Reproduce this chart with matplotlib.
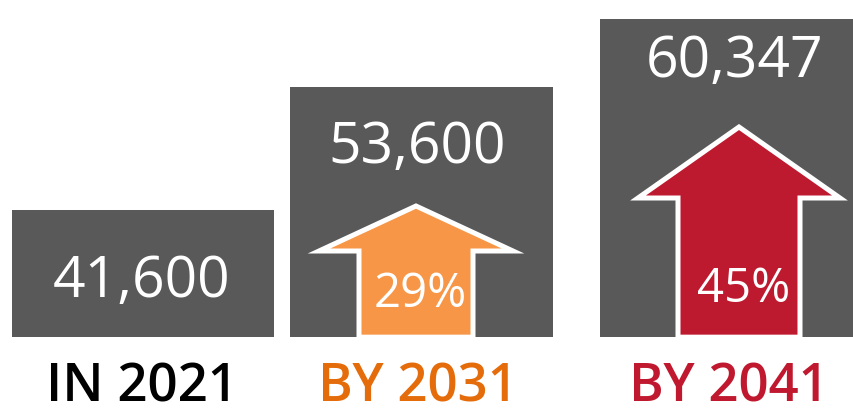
import matplotlib.pyplot as plt
from matplotlib.patches import Polygon

# population figures
labels = ['IN 2021', 'BY 2031', 'BY 2041']
values = [41600, 53600, 60347]
value_text = ['41,600', '53,600', '60,347']
growth = [None, '29%', '45%']

label_colors = ['#000000', '#E46C0A', '#C0192F']
arrow_colors = [None, '#F79646', '#BE1A2F']
bar_color = '#595959'

# layout (pixels on a 854x417 canvas)
W, H = 854, 417
bar_left = [12, 290, 600]
bar_width = [262, 263, 253]
base = 29050
ymin, ymax = 21200, 62200
value_y = [282, 148, 63]
value_x = [142, 417, 735]
label_x = [142, 418, 729]
# arrow: centre x, tip y, head base y, head half width, shaft half width
arrows = [None, (416, 206, 251, 97, 57), (739, 127, 198, 101, 61)]
pct_pos = [None, (420, 294), (744, 289)]


def py(p):
    # canvas pixel row -> data value
    return ymin + (H - p) / H * (ymax - ymin)


fig = plt.figure(figsize=(W / 100, H / 100), dpi=100)
ax = fig.add_axes([0, 0, 1, 1])
ax.set_xlim(0, W)
ax.set_ylim(ymin, ymax)
ax.axis('off')

for i, v in enumerate(values):
    ax.bar(bar_left[i], v - base, bottom=base, width=bar_width[i],
           align='edge', color=bar_color, zorder=1)
    ax.text(value_x[i], py(value_y[i]), value_text[i], color='white',
            fontsize=41, family='Open Sans', ha='center', va='center', zorder=4)
    ax.text(label_x[i], py(388), labels[i], color=label_colors[i],
            fontsize=38, family='Open Sans', fontweight='semibold',
            ha='center', va='center')

    if arrows[i] is not None:
        cx, tip, hb, hw, sw = arrows[i]
        pts = [(cx, py(tip)), (cx + hw, py(hb)), (cx + sw, py(hb)),
               (cx + sw, base), (cx - sw, base), (cx - sw, py(hb)),
               (cx - hw, py(hb))]
        ax.add_patch(Polygon(pts, closed=True, facecolor=arrow_colors[i],
                             edgecolor='white', linewidth=3.6,
                             joinstyle='miter', zorder=2))
        ax.text(pct_pos[i][0], py(pct_pos[i][1]), growth[i], color='white',
                fontsize=34, family='Open Sans', ha='center', va='center',
                zorder=4)

fig.savefig('out.png', dpi=100)
